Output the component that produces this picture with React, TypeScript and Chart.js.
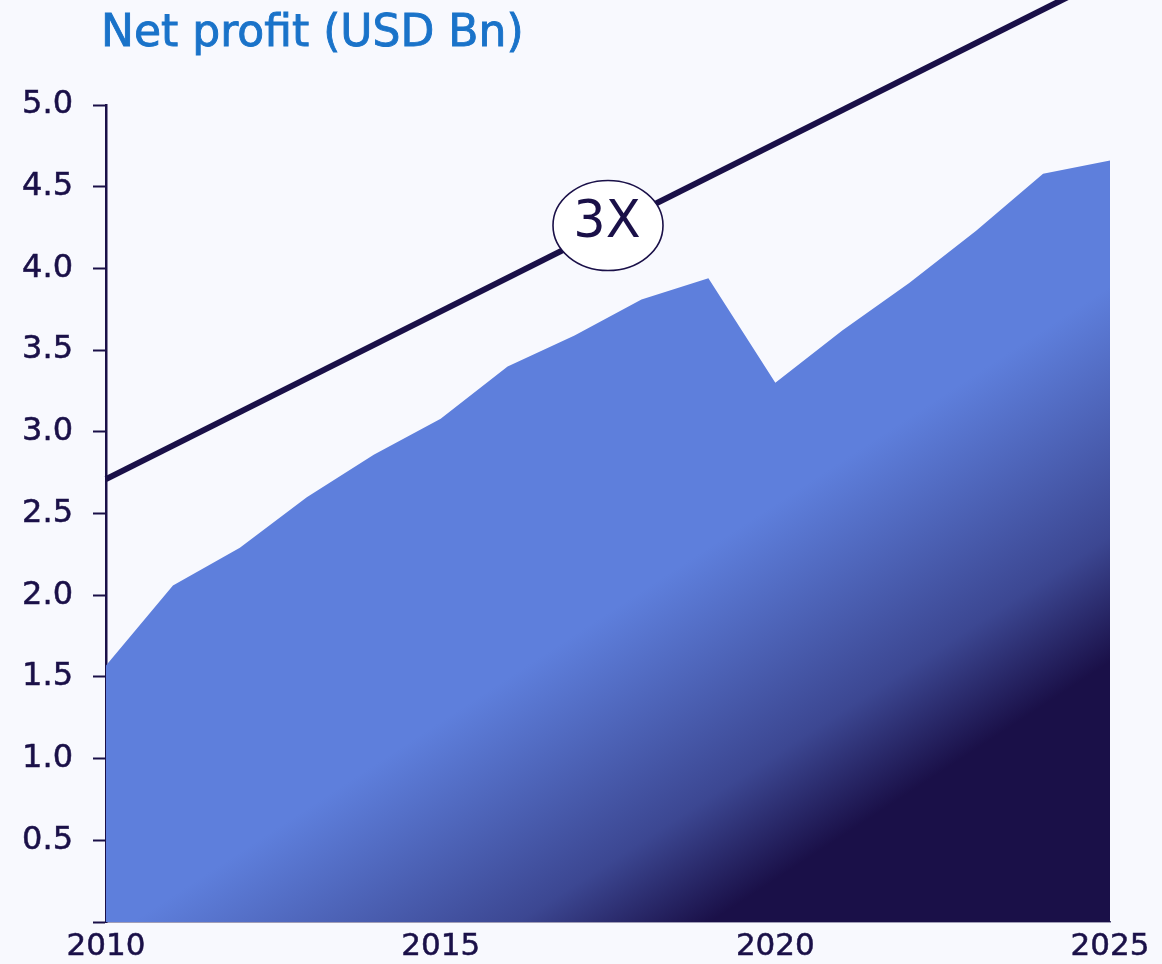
import { useEffect, useRef } from "react";
import { Chart, registerables } from "chart.js";

Chart.register(...registerables);

const years = [2010, 2011, 2012, 2013, 2014, 2015, 2016, 2017, 2018, 2019, 2020, 2021, 2022, 2023, 2024, 2025];
const netProfit = [1.57, 2.06, 2.29, 2.6, 2.86, 3.08, 3.4, 3.59, 3.81, 3.94, 3.3, 3.62, 3.91, 4.23, 4.58, 4.66];
const trendYears = [2010, 2025];
const trendValues = [2.71, 5.79];
const xTickYears = [2010, 2015, 2020, 2025];
const yTickValues = [0, 0.5, 1, 1.5, 2, 2.5, 3, 3.5, 4, 4.5, 5];
const chartTitle = "Net profit (USD Bn)";
const multiplierLabel = "3X";
const multiplierYear = 2017.5;

const DARK = "#1a1048";
const MID_FILL = "#3c4792";
const LIGHT_FILL = "#5e7fdc";
const BG = "#f8f9fe";
const TITLE_BLUE = "#1a73c9";
const FONT = "'DejaVu Sans', sans-serif";

export default function App() {
  const canvasRef = useRef<HTMLCanvasElement | null>(null);

  useEffect(() => {
    const canvas = canvasRef.current;
    if (!canvas) return;

    const decorPlugin = {
      id: "decor",
      beforeDraw(chart: any) {
        const c = chart.ctx;
        c.save();
        c.fillStyle = BG;
        c.fillRect(0, 0, chart.width, chart.height);
        c.restore();
      },
      afterDatasetsDraw(chart: any) {
        const c = chart.ctx;
        const xs = chart.scales.x;
        const ys = chart.scales.y;
        const t = (multiplierYear - trendYears[0]) / (trendYears[1] - trendYears[0]);
        const v = trendValues[0] + t * (trendValues[1] - trendValues[0]);
        const cx = xs.getPixelForValue(multiplierYear);
        const cy = ys.getPixelForValue(v) - 2;
        c.save();
        c.beginPath();
        c.ellipse(cx, cy, 55, 45, 0, 0, Math.PI * 2);
        c.fillStyle = "#ffffff";
        c.fill();
        c.lineWidth = 1.6;
        c.strokeStyle = DARK;
        c.stroke();
        c.fillStyle = DARK;
        c.font = `400 51px ${FONT}`;
        c.textAlign = "center";
        c.textBaseline = "alphabetic";
        c.fillText(multiplierLabel, cx - 1, cy + 11);
        c.restore();
      },
      afterDraw(chart: any) {
        const c = chart.ctx;
        c.save();
        c.fillStyle = TITLE_BLUE;
        c.strokeStyle = TITLE_BLUE;
        c.lineWidth = 0.9;
        c.font = `400 44px ${FONT}`;
        c.textAlign = "left";
        c.textBaseline = "alphabetic";
        c.fillText(chartTitle, 101, 46);
        c.strokeText(chartTitle, 101, 46);
        c.restore();
      },
    };

    const areaGradient = (ctx: any) => {
      const chart = ctx.chart;
      const area = chart.chartArea;
      if (!area) return LIGHT_FILL;
      const w = area.right - area.left;
      const h = area.bottom - area.top;
      const c = chart.ctx as CanvasRenderingContext2D;
      const g = c.createLinearGradient(
        area.left + 0.3531 * w,
        area.top + 0.7387 * h,
        area.left + 0.5241 * w,
        area.top + 1.062 * h
      );
      g.addColorStop(0, LIGHT_FILL);
      g.addColorStop(0.667, MID_FILL);
      g.addColorStop(1, DARK);
      return g;
    };

    const chart = new Chart(canvas, {
      type: "line",
      data: {
        datasets: [
          {
            label: "Trend",
            data: trendYears.map((yr, i) => ({ x: yr, y: trendValues[i] })),
            borderColor: DARK,
            borderWidth: 6,
            pointRadius: 0,
            fill: false,
            clip: false as any,
            tension: 0,
          },
          {
            label: "Net profit",
            data: years.map((yr, i) => ({ x: yr, y: netProfit[i] })),
            borderWidth: 0,
            borderColor: "rgba(0,0,0,0)",
            backgroundColor: areaGradient,
            pointRadius: 0,
            fill: "origin",
            tension: 0,
          },
        ],
      },
      options: {
        responsive: false,
        animation: false,
        events: [],
        layout: { padding: { top: 105, right: 52, left: 0, bottom: 0 } },
        plugins: {
          legend: { display: false },
          tooltip: { enabled: false },
          title: { display: false },
        },
        scales: {
          x: {
            type: "linear",
            z: 1,
            min: years[0],
            max: years[years.length - 1],
            afterFit: (s: any) => {
              s.height = 42;
            },
            afterBuildTicks: (s: any) => {
              s.ticks = xTickYears.map((v) => ({ value: v }));
            },
            ticks: {
              color: DARK,
              font: { family: FONT, size: 31, weight: 400 as any },
              textStrokeColor: DARK,
              textStrokeWidth: 0.5,
              padding: 6,
              maxRotation: 0,
              autoSkip: false,
              callback: (v: any) => String(v),
            },
            grid: { display: true, drawOnChartArea: false, drawTicks: false },
            border: { display: true, color: "#4a4470", width: 1.5 },
          },
          y: {
            type: "linear",
            z: 1,
            min: 0,
            max: 5,
            afterFit: (s: any) => {
              s.width = 106;
            },
            afterBuildTicks: (s: any) => {
              s.ticks = yTickValues.map((v) => ({ value: v }));
            },
            ticks: {
              color: DARK,
              font: { family: FONT, size: 32, weight: 400 as any },
              textStrokeColor: DARK,
              textStrokeWidth: 0.5,
              padding: 20,
              autoSkip: false,
              callback: (v: any) => (Number(v) === 0 ? "" : Number(v).toFixed(1)),
            },
            grid: {
              display: true,
              drawOnChartArea: false,
              drawTicks: true,
              tickLength: 13,
              tickWidth: 2,
              tickColor: DARK,
            },
            border: { display: true, color: DARK, width: 2.5 },
          },
        },
      },
      plugins: [decorPlugin],
    });

    return () => {
      chart.destroy();
    };
  }, []);

  return (
    <div style={{ position: "absolute", left: 0, top: 0, width: 1162, height: 964 }}>
      <canvas ref={canvasRef} width={1162} height={964} style={{ display: "block" }} />
    </div>
  );
}
